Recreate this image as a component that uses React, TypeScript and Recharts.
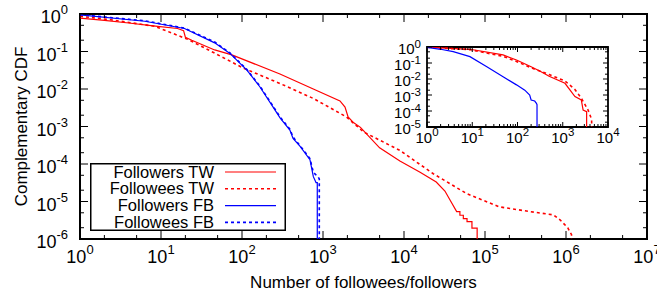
import React from 'react';
import { ComposedChart, Line, XAxis, YAxis, ReferenceArea, Legend } from 'recharts';

const FONT = '"Liberation Sans", Arial, Helvetica, sans-serif';

// main plot: [number of followees/followers, complementary CDF]
const followersTW: [number, number][] = [
  [1, 0.78], [2, 0.68], [4, 0.575], [8, 0.48], [16, 0.41], [19, 0.36], [20, 0.24], [24, 0.2],
  [46, 0.11], [75, 0.081], [294, 0.0251], [759, 0.01], [1620, 0.0048], [1870, 0.0033],
  [2040, 0.0018], [2350, 0.0013], [2900, 9.5e-4], [5000, 2.7e-4], [8900, 1.2e-4],
  [15800, 6e-5], [25000, 3.3e-5], [32000, 1.9e-5], [37000, 1.1e-5], [44700, 5.4e-6],
  [49000, 5.4e-6], [49000, 4.3e-6], [54000, 4.3e-6], [54000, 3.5e-6], [60000, 3.5e-6],
  [60000, 2.9e-6], [69000, 2.9e-6], [69000, 1.95e-6], [80000, 1.95e-6], [80000, 1e-6],
];
const followeesTW: [number, number][] = [
  [1, 0.87], [2.4, 0.7], [8.4, 0.47], [21.5, 0.21], [42, 0.1], [104, 0.036], [295, 0.014],
  [760, 0.0056], [1950, 0.0018], [3150, 7.2e-4], [8900, 2.3e-4], [23000, 5.5e-5],
  [60000, 1.6e-5], [150000, 7.2e-6], [400000, 5.2e-6], [700000, 4.4e-6], [850000, 3.2e-6],
  [1050000, 2e-6], [1170000, 1.3e-6], [1170000, 1e-6],
];
const followersFB: [number, number][] = [
  [1, 0.95], [6.3, 0.64], [19.5, 0.41], [46, 0.17], [71, 0.089], [115, 0.032], [166, 0.0115],
  [240, 0.0034], [295, 0.0017], [390, 8e-4], [427, 4.8e-4], [525, 2.9e-4], [690, 1.3e-4],
  [760, 4.6e-5], [820, 3.2e-5], [850, 3.2e-5], [850, 1e-6],
];
const followeesFB: [number, number][] = [
  [1, 0.96], [6.3, 0.66], [19.5, 0.42], [46, 0.18], [71, 0.092], [115, 0.033], [166, 0.012],
  [240, 0.0036], [295, 0.0018], [390, 8.5e-4], [427, 5.2e-4], [525, 3e-4], [690, 1.4e-4],
  [760, 6e-5], [870, 4.5e-5], [900, 4e-5], [900, 1e-6],
];

// inset plot
const insetFollowersTW: [number, number][] = [
  [1, 0.98], [9, 0.72], [48, 0.32], [95, 0.155], [200, 0.058], [310, 0.032], [500, 0.015],
  [1120, 0.0054], [1860, 8e-4], [2570, 4.9e-4], [2820, 1.15e-4], [3370, 9e-5], [3370, 1e-5],
];
const insetFolloweesTW: [number, number][] = [
  [1, 0.97], [9, 0.68], [48, 0.26], [95, 0.125], [200, 0.05], [310, 0.032], [500, 0.019],
  [1120, 0.0076], [1860, 0.0022], [2570, 6.3e-4], [3630, 1.15e-4], [4350, 3e-5], [4350, 1e-5],
];
const insetFollowersFB: [number, number][] = [
  [1, 0.95], [2, 0.72], [3.8, 0.51], [8.9, 0.25], [21, 0.059], [48, 0.0138], [95, 0.0043],
  [145, 0.002], [186, 1e-3], [200, 4.9e-4], [240, 4.2e-4], [262, 3e-4], [270, 2.5e-4], [270, 1e-5],
];

// ticks
const mainXMajor = [1, 10, 100, 1e3, 1e4, 1e5, 1e6, 1e7];
const mainXLabels = ['0', '1', '2', '3', '4', '5', '6', '7'];
const mainXMinor = [2, 5, 20, 50, 200, 500, 2e3, 5e3, 2e4, 5e4, 2e5, 5e5, 2e6, 5e6];
const mainYMajor = [1e-6, 1e-5, 1e-4, 1e-3, 1e-2, 1e-1, 1];
const mainYLabels = ['-6', '-5', '-4', '-3', '-2', '-1', '0'];
const mainYMinor = [2e-6, 5e-6, 2e-5, 5e-5, 2e-4, 5e-4, 2e-3, 5e-3, 0.02, 0.05, 0.2, 0.5];
const insetXMajor = [1, 10, 100, 1e3, 1e4];
const insetXLabels = ['0', '1', '2', '3', '4'];
const insetXMinor = [
  2, 3, 4, 5, 6, 7, 8, 9, 20, 30, 40, 50, 60, 70, 80, 90,
  200, 300, 400, 500, 600, 700, 800, 900, 2000, 3000, 4000, 5000, 6000, 7000, 8000, 9000,
];
const insetYMajor = [1e-5, 1e-4, 1e-3, 1e-2, 1e-1, 1];
const insetYLabels = ['-5', '-4', '-3', '-2', '-1', '0'];
const insetYMinor = [2e-5, 5e-5, 2e-4, 5e-4, 2e-3, 5e-3, 0.02, 0.05, 0.2, 0.5];

const RED = '#ff0000';
const BLUE = '#0000ff';

const mainSeries = [
  { name: 'Followers TW', data: followersTW, color: RED, dash: undefined as string | undefined },
  { name: 'Followees TW', data: followeesTW, color: RED, dash: '3 3' },
  { name: 'Followers FB', data: followersFB, color: BLUE, dash: undefined },
  { name: 'Followees FB', data: followeesFB, color: BLUE, dash: '3 3' },
];
const insetSeries = [
  { name: 'Followers TW', data: insetFollowersTW, color: RED, dash: undefined as string | undefined },
  { name: 'Followees TW', data: insetFolloweesTW, color: RED, dash: '3 3' },
  { name: 'Followers FB', data: insetFollowersFB, color: BLUE, dash: undefined },
];

const toPts = (a: [number, number][]) => a.map(([x, y]) => ({ x, y }));

type TickOpts = {
  majors: number[]; labels: string[]; span: number; major: number; minor: number;
  font: number; sup: number; raise: number; gap: number; base: number;
};

// ticks point inwards, mirrored on the opposite side of the frame
const makeXTick = (o: TickOpts) => (props: any) => {
  const { x, y, payload } = props;
  const i = o.majors.indexOf(payload.value);
  const len = i >= 0 ? o.major : o.minor;
  return (
    <g>
      <line x1={x} x2={x} y1={y} y2={y - len} stroke="#000" />
      <line x1={x} x2={x} y1={y - o.span} y2={y - o.span + len} stroke="#000" />
      {i >= 0 && (
        <text x={x} y={y + o.gap} textAnchor="middle" fontFamily={FONT} fontSize={o.font} fill="#000">
          10<tspan dy={-o.raise} fontSize={o.sup}>{o.labels[i]}</tspan>
        </text>
      )}
    </g>
  );
};

const makeYTick = (o: TickOpts) => (props: any) => {
  const { x, y, payload } = props;
  const i = o.majors.indexOf(payload.value);
  const len = i >= 0 ? o.major : o.minor;
  return (
    <g>
      <line x1={x} x2={x + len} y1={y} y2={y} stroke="#000" />
      <line x1={x + o.span} x2={x + o.span - len} y1={y} y2={y} stroke="#000" />
      {i >= 0 && (
        <text x={x - o.gap} y={y + o.base} textAnchor="end" fontFamily={FONT} fontSize={o.font} fill="#000">
          10<tspan dy={-o.raise} fontSize={o.sup}>{o.labels[i]}</tspan>
        </text>
      )}
    </g>
  );
};

const PLOT_W = 567;
const PLOT_H = 225;
const INSET_W = 181;
const INSET_H = 80;

const mainXTick = makeXTick({ majors: mainXMajor, labels: mainXLabels, span: PLOT_H, major: 8, minor: 4, font: 18, sup: 13, raise: 9, gap: 24, base: 0 });
const mainYTick = makeYTick({ majors: mainYMajor, labels: mainYLabels, span: PLOT_W, major: 8, minor: 4, font: 18, sup: 13, raise: 9, gap: 12, base: 9 });
const insetXTick = makeXTick({ majors: insetXMajor, labels: insetXLabels, span: INSET_H, major: 5, minor: 3, font: 15, sup: 11.5, raise: 7, gap: 16, base: 0 });
const insetYTick = makeYTick({ majors: insetYMajor, labels: insetYLabels, span: INSET_W, major: 5, minor: 3, font: 15, sup: 11.5, raise: 6, gap: 6, base: 7 });

const XTitle = (props: any) => {
  const vb = props.viewBox;
  return (
    <text x={vb.x + vb.width / 2} y={vb.y + 49} textAnchor="middle" fontFamily={FONT} fontSize={17} fill="#000">
      Number of followees/followers
    </text>
  );
};

const YTitle = (props: any) => {
  const vb = props.viewBox;
  const cx = vb.x + 26.5;
  const cy = vb.y + vb.height / 2;
  return (
    <text x={cx} y={cy} transform={`rotate(-90 ${cx} ${cy})`} textAnchor="middle" fontFamily={FONT} fontSize={17} fill="#000">
      Complementary CDF
    </text>
  );
};

const LegendBox = () => (
  <svg width={196} height={68} style={{ display: 'block' }}>
    <rect x={0.75} y={0.75} width={194.5} height={66.5} fill="#fff" stroke="#000" strokeWidth={1.5} />
    {mainSeries.map((s, i) => {
      const cy = 9 + i * 16.8;
      return (
        <g key={s.name}>
          <text x={124} y={cy + 5.5} textAnchor="end" fontFamily={FONT} fontSize={16.5} fill="#000">{s.name}</text>
          <line x1={135} x2={186} y1={cy} y2={cy} stroke={s.color} strokeWidth={s.dash ? 1.6 : 1.2} strokeDasharray={s.dash} />
        </g>
      );
    })}
  </svg>
);

export default function App() {
  return (
    <div style={{ position: 'absolute', left: 0, top: 0, width: 657, height: 295, background: '#fff' }}>
      <ComposedChart width={657} height={295} margin={{ top: 14, right: 10, bottom: 0, left: 0 }}>
        <XAxis
          dataKey="x" type="number" scale="log" domain={[1, 1e7]} allowDataOverflow
          ticks={[...mainXMajor, ...mainXMinor]} interval={0} tick={mainXTick}
          tickSize={0} tickMargin={0} tickLine={false} axisLine={false} height={56}
          label={XTitle}
        />
        <YAxis
          type="number" scale="log" domain={[1e-6, 1]} allowDataOverflow
          ticks={[...mainYMajor, ...mainYMinor]} interval={0} tick={mainYTick}
          tickSize={0} tickMargin={0} tickLine={false} axisLine={false} width={80}
          label={YTitle}
        />
        <ReferenceArea x1={1} x2={1e7} y1={1e-6} y2={1} fill="none" stroke="#000" strokeWidth={2} />
        {mainSeries.map((s) => (
          <Line
            key={s.name} name={s.name} data={toPts(s.data)} dataKey="y" type="linear"
            stroke={s.color} strokeWidth={s.dash ? 1.6 : 1.2} strokeDasharray={s.dash}
            dot={false} activeDot={false} isAnimationActive={false}
          />
        ))}
        <Legend
          layout="vertical" align="center" verticalAlign="middle"
          wrapperStyle={{ left: 90, top: 163, width: 196, height: 68 }}
          content={() => <LegendBox />}
        />
      </ComposedChart>
      <div style={{ position: 'absolute', left: 380, top: 35 }}>
        <ComposedChart width={240} height={130} margin={{ top: 12, right: 12, bottom: 0, left: 0 }}>
          <XAxis
            dataKey="x" type="number" scale="log" domain={[1, 1e4]} allowDataOverflow
            ticks={[...insetXMajor, ...insetXMinor]} interval={0} tick={insetXTick}
            tickSize={0} tickMargin={0} tickLine={false} axisLine={false} height={38}
          />
          <YAxis
            type="number" scale="log" domain={[1e-5, 1]} allowDataOverflow
            ticks={[...insetYMajor, ...insetYMinor]} interval={0} tick={insetYTick}
            tickSize={0} tickMargin={0} tickLine={false} axisLine={false} width={47}
          />
          <ReferenceArea x1={1} x2={1e4} y1={1e-5} y2={1} fill="none" stroke="#000" strokeWidth={1.8} />
          {insetSeries.map((s) => (
            <Line
              key={s.name} name={s.name} data={toPts(s.data)} dataKey="y" type="linear"
              stroke={s.color} strokeWidth={s.dash ? 1.6 : 1.2} strokeDasharray={s.dash}
              dot={false} activeDot={false} isAnimationActive={false}
            />
          ))}
        </ComposedChart>
      </div>
    </div>
  );
}
